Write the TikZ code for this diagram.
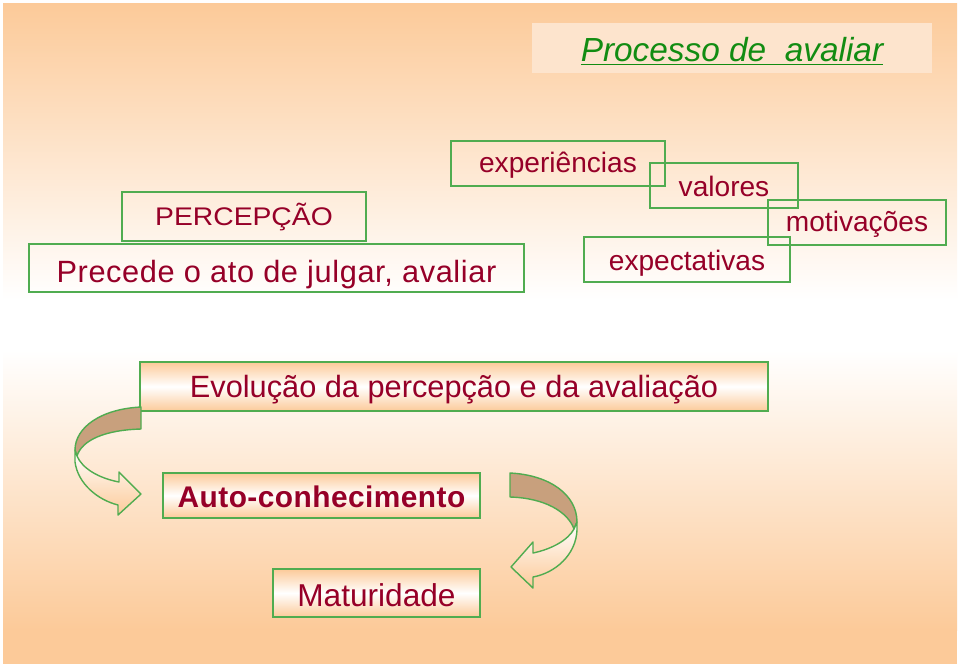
\documentclass[tikz,border=0pt]{standalone}
\usepackage{fontspec}
\setmainfont{Liberation Sans}
\usetikzlibrary{calc}
\definecolor{verde}{RGB}{80,172,80}
\definecolor{verdetitulo}{RGB}{18,140,18}
\definecolor{vinho}{RGB}{150,0,40}
\definecolor{pessego}{RGB}{252,202,153}
\definecolor{fundotitulo}{RGB}{253,228,205}
\definecolor{castanho}{RGB}{200,160,125}

\begin{document}
\begin{tikzpicture}[x=0.02cm, y=-0.02cm,
    caixa/.style={draw=verde, line width=0.9pt, text=vinho, inner sep=0pt, text depth=0pt,
        minimum height=0.9cm, font={\fontsize{16}{19}\selectfont}},
    caixacor/.style={caixa, top color=pessego, bottom color=pessego, middle color=white},
    seta/.style={draw=verde, line width=0.8pt, line join=round}]
    \useasboundingbox (0,0) rectangle (960,667);
    \fill [white] (0,0) rectangle (960,667);
    \shade [top color=pessego, bottom color=white] (3,3) rectangle (957,300);
    \fill [white] (3,300) rectangle (957,350);
    \shade [top color=white, bottom color=pessego] (3,350) rectangle (957,630);
    \fill [pessego] (3,630) rectangle (957,664);

    \node [fill=fundotitulo, minimum width=8cm, minimum height=1cm, inner sep=0pt, text depth=0pt, text height=15.6pt,
        text=verdetitulo, font={\fontsize{19}{22}\selectfont\itshape}] (titulo) at (732,48) {\underline{Processo de\ \ avaliar}};

    \node [caixa, minimum width=4.28cm, text height=10.8pt] (experiencias) at (558,163.5) {experiências};
    \node [caixa, minimum width=2.96cm, text height=12.5pt] (valores) at (724,185.5) {valores};
    \node [caixa, minimum width=3.56cm, text height=10.2pt] (motivacoes) at (857,222.5) {motivações};
    \node [caixa, minimum width=4.12cm, text height=12pt] (expectativas) at (687,259.5) {expectativas};
    \node [caixa, minimum width=4.88cm, minimum height=0.98cm, text height=9.7pt,
        font={\fontsize{14.5}{17}\selectfont}] (percepcao) at (244,216.5) {\scalebox{1.11}[1]{PERCEPÇÃO}};
    \node [caixa, minimum width=9.9cm, minimum height=0.96cm, text height=17pt,
        font={\fontsize{17.5}{20}\selectfont\addfontfeature{LetterSpace=2}}] (precede) at (276.5,268) {Precede o ato de julgar, avaliar};

    \node [caixacor, minimum width=12.56cm, minimum height=0.98cm, text height=13pt,
        font={\fontsize{17.5}{20}\selectfont}] (evolucao) at (454,386.5) {Evolução da percepção e da avaliação};
    \node [caixacor, minimum width=6.34cm, text height=14.2pt,
        font={\fontsize{17}{20}\selectfont\bfseries\addfontfeature{LetterSpace=1.5}}] (auto) at (321.5,495.5) {Auto-conhecimento};
    \node [caixacor, minimum width=4.14cm, minimum height=0.96cm, text height=15.6pt,
        font={\fontsize{18}{21}\selectfont}] (maturidade) at (376.5,593) {Maturidade};

    \draw [seta, fill=castanho] (141,407) .. controls (100,409) and (75,428) .. (75,450)
        -- (77,456) .. controls (82,440) and (105,430) .. (141,429) -- cycle;
    \draw [seta, top color=white, bottom color=pessego] (75,450) -- (75,462)
        .. controls (78,484) and (98,500) .. (118,505) -- (118,515) -- (141,494)
        -- (119,472) -- (119,482) .. controls (98,478) and (82,468) .. (77,456) -- cycle;

    \draw [seta, fill=castanho] (510,473) .. controls (550,475) and (577,495) .. (577,522)
        -- (574,529) .. controls (568,512) and (545,498) .. (510,497) -- cycle;
    \draw [seta, top color=white, bottom color=pessego] (577,522) -- (577,530)
        .. controls (576,555) and (555,573) .. (533,577) -- (533,588) -- (511,567)
        -- (533,542) -- (533,553) .. controls (552,549) and (568,540) .. (574,529) -- cycle;
\end{tikzpicture}
\end{document}
